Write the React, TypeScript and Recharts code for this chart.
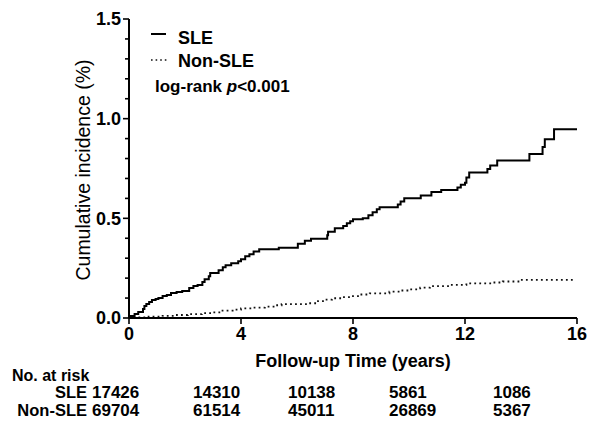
import { LineChart, Line, XAxis, YAxis, Label } from 'recharts'

const FONT = '"Liberation Sans", Arial, sans-serif'

// SLE cumulative incidence steps (years, %)
const sleTime = [
  0, 0.05, 0.2, 0.33, 0.5, 0.55, 0.62, 0.72, 0.82, 0.95, 1.05, 1.2, 1.35, 1.5, 1.7, 1.9,
  2.15, 2.3, 2.45, 2.62, 2.7, 2.85, 2.9, 3.2, 3.35, 3.45, 3.65, 3.9, 4.0, 4.15, 4.3, 4.45,
  4.65, 5.35, 6.03, 6.28, 6.5, 7.08, 7.11, 7.35, 7.65, 7.78, 7.9, 8.0, 8.35, 8.55, 8.7, 8.85,
  8.95, 9.6, 9.7, 9.83, 10.42, 10.8, 11.15, 11.73, 11.85, 12.0, 12.05, 12.15, 12.8, 12.9,
  13.15, 14.3, 14.77, 14.85, 15.18, 16,
]
const sleValue = [
  0, 0.01, 0.02, 0.03, 0.045, 0.06, 0.07, 0.08, 0.09, 0.095, 0.1, 0.11, 0.115, 0.125, 0.13, 0.135,
  0.15, 0.16, 0.165, 0.18, 0.195, 0.21, 0.226, 0.24, 0.255, 0.265, 0.275, 0.285, 0.295, 0.31, 0.32, 0.333,
  0.345, 0.353, 0.372, 0.388, 0.397, 0.415, 0.433, 0.45, 0.462, 0.475, 0.485, 0.495, 0.5, 0.515, 0.53, 0.546,
  0.556, 0.57, 0.585, 0.601, 0.615, 0.632, 0.642, 0.655, 0.668, 0.678, 0.705, 0.73, 0.748, 0.765,
  0.79, 0.823, 0.858, 0.897, 0.947, 0.947,
]

// Non-SLE cumulative incidence steps
const nonTime = [
  0, 0.3, 0.7, 1.2, 1.65, 2.1, 2.6, 2.95, 3.3, 3.7, 4.0, 4.4, 4.85, 5.2, 5.45, 6.4, 6.75,
  7.0, 7.25, 7.6, 7.95, 8.3, 8.6, 9.3, 9.7, 10.0, 10.4, 10.75, 11.45, 12.05, 13.0, 13.35,
  13.95, 15.87,
]
const nonValue = [
  0, 0.003, 0.007, 0.011, 0.015, 0.019, 0.024, 0.028, 0.037, 0.042, 0.048, 0.052, 0.057,
  0.064, 0.07, 0.074, 0.085, 0.092, 0.099, 0.105, 0.11, 0.118, 0.124, 0.132, 0.138, 0.144,
  0.152, 0.16, 0.166, 0.174, 0.178, 0.183, 0.191, 0.191,
]

const xTicks = [0, 4, 8, 12, 16]
const yTicks = [0, 0.1, 0.2, 0.3, 0.4, 0.5, 0.6, 0.7, 0.8, 0.9, 1.0, 1.1, 1.2, 1.3, 1.4, 1.5]
const yLabelled = [0, 0.5, 1.0, 1.5]

const riskGroups = ['SLE', 'Non-SLE']
const riskSLE = [17426, 14310, 10138, 5861, 1086]
const riskNonSLE = [69704, 61514, 45011, 26869, 5367]
const riskCols = [92, 193, 288, 389, 493]

const sleData = sleTime.map((t, i) => ({ t, v: sleValue[i] }))
const nonData = nonTime.map((t, i) => ({ t, v: nonValue[i] }))

// eslint-disable-next-line @typescript-eslint/no-explicit-any
function YTick({ x, y, payload }: any) {
  const v = payload.value
  const major = yLabelled.some(m => Math.abs(m - v) < 1e-6)
  return (
    <g>
      <line x1={x - (major ? 6 : 4)} x2={x} y1={y} y2={y} stroke="#000" strokeWidth={1.6} />
      {major && (
        <text x={x - 8} y={y} dy="0.36em" textAnchor="end" fontFamily={FONT}
          fontWeight="bold" fontSize={18} fill="#000">
          {v.toFixed(1)}
        </text>
      )}
    </g>
  )
}

export default function App() {
  return (
    <div style={{ position: 'absolute', left: 0, top: 0, width: 590, height: 429, background: '#fff' }}>
      <LineChart width={590} height={429} margin={{ top: 19, right: 13, bottom: 51, left: 0 }}>
        <XAxis
          type="number"
          dataKey="t"
          domain={[0, 16]}
          ticks={xTicks}
          allowDuplicatedCategory={false}
          height={60}
          axisLine={{ stroke: '#000', strokeWidth: 2 }}
          tickLine={{ stroke: '#000', strokeWidth: 1.6 }}
          tickSize={6}
          tickMargin={3}
          tick={{ fill: '#000', fontSize: 18, fontWeight: 'bold', fontFamily: FONT }}
        >
          <Label
            content={() => (
              <text x={353} y={367} textAnchor="middle" fontFamily={FONT}
                fontWeight="bold" fontSize={18} fill="#000">
                Follow-up Time (years)
              </text>
            )}
          />
        </XAxis>
        <YAxis
          type="number"
          domain={[0, 1.5]}
          ticks={yTicks}
          interval={0}
          width={129}
          axisLine={{ stroke: '#000', strokeWidth: 2 }}
          tickLine={false}
          tickSize={0}
          tickMargin={0}
          tick={<YTick />}
        >
          <Label
            content={() => (
              <text transform="translate(90,170) rotate(-90)" textAnchor="middle"
                fontFamily={FONT} fontSize={19.5} fill="#000">
                Cumulative incidence (%)
              </text>
            )}
          />
        </YAxis>
        <Line
          data={nonData}
          dataKey="v"
          type="stepAfter"
          stroke="#111"
          strokeWidth={1.8}
          strokeDasharray="1.8 3.2"
          dot={false}
          isAnimationActive={false}
        />
        <Line
          data={sleData}
          dataKey="v"
          type="stepAfter"
          stroke="#000"
          strokeWidth={2}
          dot={false}
          isAnimationActive={false}
        />
      </LineChart>

      <svg width={590} height={429} style={{ position: 'absolute', left: 0, top: 0, pointerEvents: 'none' }}
        fontFamily={FONT} fill="#000">
        {/* legend */}
        <line x1={151} x2={166} y1={34} y2={34} stroke="#000" strokeWidth={2} />
        <text x={178} y={44} fontSize={18} fontWeight="bold">SLE</text>
        <line x1={151} x2={167} y1={60} y2={60} stroke="#111" strokeWidth={1.6} strokeDasharray="1.6 3" />
        <text x={178} y={67} fontSize={18} fontWeight="bold">Non-SLE</text>
        <text x={155} y={92} fontSize={17} fontWeight="bold">
          log-rank <tspan fontStyle="italic">p</tspan>&lt;0.001
        </text>

        {/* number at risk */}
        <text x={12} y={381} fontSize={16} fontWeight="bold">No. at risk</text>
        {[riskSLE, riskNonSLE].map((row, r) => (
          <g key={riskGroups[r]}>
            <text x={87} y={398 + r * 18} fontSize={16.5} fontWeight="bold" textAnchor="end">
              {riskGroups[r]}
            </text>
            {row.map((n, c) => (
              <text key={c} x={riskCols[c]} y={398 + r * 18} fontSize={17} fontWeight="bold">
                {n}
              </text>
            ))}
          </g>
        ))}
      </svg>
    </div>
  )
}
